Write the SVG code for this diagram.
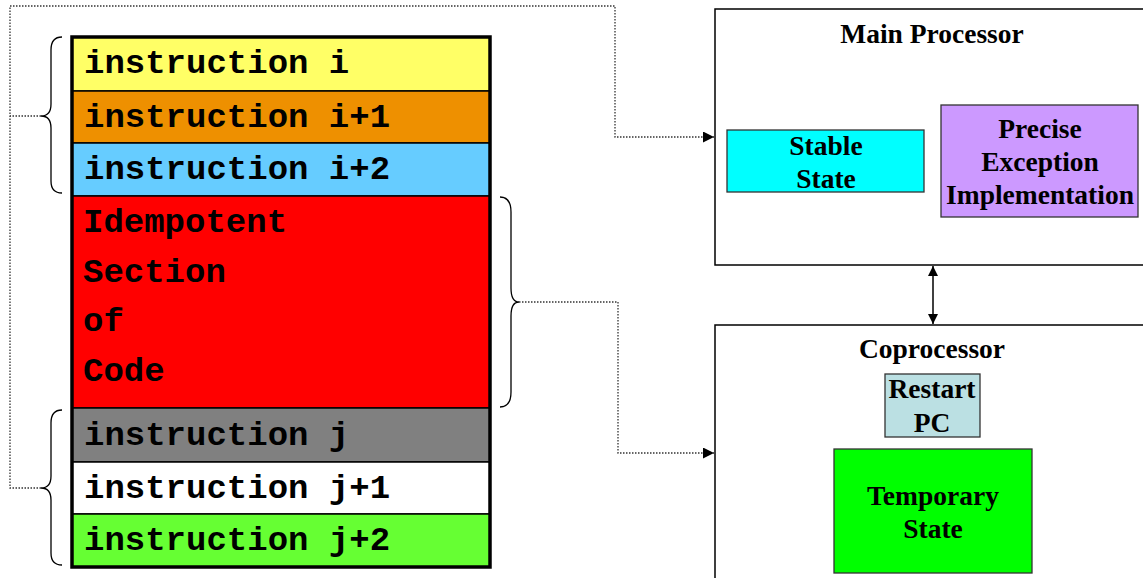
<svg xmlns="http://www.w3.org/2000/svg" width="1143" height="578" viewBox="0 0 1143 578">
  <style>
    .mono { font-family: "Liberation Mono", "Courier New", monospace; font-weight: bold; font-size: 34px; fill: #000; }
    .serif { font-family: "Liberation Serif", "Times New Roman", serif; font-weight: bold; font-size: 27.5px; fill: #000; text-anchor: middle; }
    .row { stroke: #000; stroke-width: 1.5; }
    .brace { fill: none; stroke: #000; stroke-width: 1.3; }
    .dotted { fill: none; stroke: #333; stroke-width: 1.3; stroke-dasharray: 1.5 1.5; }
    .frame { fill: #fff; stroke: #000; stroke-width: 1.5; }
    .box { stroke: #333; stroke-width: 1.3; }
  </style>
  <defs>
    <marker id="tri" viewBox="0 0 10 10" refX="10" refY="5" markerWidth="12" markerHeight="11" markerUnits="userSpaceOnUse" orient="auto">
      <path d="M0,0 L10,5 L0,10 Z" fill="#000"/>
    </marker>
    <marker id="tri2" viewBox="0 0 10 10" refX="10" refY="5" markerWidth="10" markerHeight="10" markerUnits="userSpaceOnUse" orient="auto-start-reverse">
      <path d="M0,0 L10,5 L0,10 Z" fill="#000"/>
    </marker>
  </defs>
  <rect width="1143" height="578" fill="#fff"/>

  <!-- instruction stack -->
  <g id="stack">
    <rect class="row" x="72" y="37" width="418" height="54" fill="#FFFF66"/>
    <rect class="row" x="72" y="91" width="418" height="52" fill="#EE9000"/>
    <rect class="row" x="72" y="143" width="418" height="53" fill="#66CCFF"/>
    <rect class="row" x="72" y="196" width="418" height="212" fill="#FF0000"/>
    <rect class="row" x="72" y="408" width="418" height="54" fill="#808080"/>
    <rect class="row" x="72" y="462" width="418" height="52" fill="#FFFFFF"/>
    <rect class="row" x="72" y="514" width="418" height="53" fill="#66FF33"/>
    <rect x="72" y="37" width="418" height="530" fill="none" stroke="#000" stroke-width="3.5"/>
    <text class="mono" x="84" y="73">instruction i</text>
    <text class="mono" x="84" y="127">instruction i+1</text>
    <text class="mono" x="84" y="179">instruction i+2</text>
    <text class="mono" x="83" y="232">Idempotent</text>
    <text class="mono" x="83" y="282">Section</text>
    <text class="mono" x="83" y="331">of</text>
    <text class="mono" x="83" y="381">Code</text>
    <text class="mono" x="84" y="445">instruction j</text>
    <text class="mono" x="84" y="498">instruction j+1</text>
    <text class="mono" x="84" y="550">instruction j+2</text>
  </g>

  <!-- braces grouping the instructions -->
  <g id="braces">
    <path class="brace" d="M62,37 Q51,37 51,50 L51,104 Q51,116 41,116 Q51,116 51,128 L51,181 Q51,193 62,193"/>
    <path class="brace" d="M62,410 Q51,410 51,423 L51,476 Q51,488 41,488 Q51,488 51,500 L51,553 Q51,565 62,565"/>
    <path class="brace" d="M500,197 Q511,197 511,212 L511,288 Q511,302 519,302 Q511,302 511,316 L511,392 Q511,407 500,407"/>
  </g>

  <!-- main processor -->
  <g id="main-processor">
    <rect class="frame" x="715" y="9" width="440" height="256"/>
    <text class="serif" x="932" y="43">Main Processor</text>
  </g>
  <g id="stable-state">
    <rect class="box" x="727" y="130" width="197" height="62" fill="#00FFFF"/>
    <text class="serif" x="826" y="155">Stable</text>
    <text class="serif" x="826" y="188">State</text>
  </g>
  <g id="precise-exception">
    <rect class="box" x="941" y="105" width="197" height="112" fill="#CC99FF"/>
    <text class="serif" x="1040" y="138">Precise</text>
    <text class="serif" x="1040" y="171">Exception</text>
    <text class="serif" x="1040" y="204">Implementation</text>
  </g>

  <!-- coprocessor -->
  <g id="coprocessor">
    <rect class="frame" x="715" y="325" width="440" height="270"/>
    <text class="serif" x="932" y="358">Coprocessor</text>
  </g>
  <g id="restart-pc">
    <rect class="box" x="885" y="374" width="95" height="63" fill="#BBE0E3"/>
    <text class="serif" x="932" y="398">Restart</text>
    <text class="serif" x="932" y="432">PC</text>
  </g>
  <g id="temporary-state">
    <rect class="box" x="834" y="449" width="198" height="124" fill="#00FF00"/>
    <text class="serif" x="933" y="505">Temporary</text>
    <text class="serif" x="933" y="538">State</text>
  </g>

  <!-- connectors -->
  <g id="connectors">
    <path class="dotted" d="M41,116 L10,116"/>
    <path class="dotted" d="M41,488 L10,488 L10,6 L615,6 L615,137 L714,137" marker-end="url(#tri)"/>
    <path class="dotted" d="M519,302 L618,302 L618,453 L714,453" marker-end="url(#tri)"/>
    <path d="M933,266 L933,324" fill="none" stroke="#000" stroke-width="1.5" marker-start="url(#tri2)" marker-end="url(#tri2)"/>
  </g>
</svg>
